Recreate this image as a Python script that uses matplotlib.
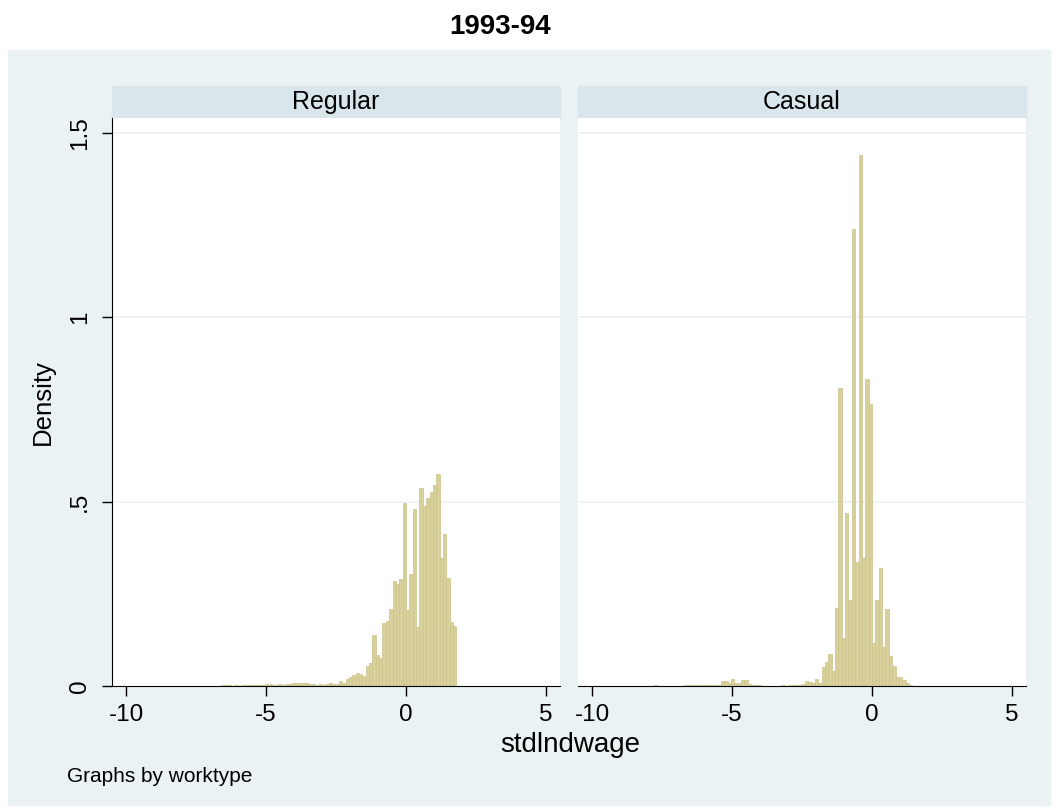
import numpy as np
import matplotlib
matplotlib.use("Agg")
import matplotlib.pyplot as plt
from matplotlib.patches import Rectangle

plt.rcParams["font.family"] = ["Liberation Sans", "DejaVu Sans"]

# histogram bins (common to both panels)
bin_start = -7.8
bin_width = 0.12

# density per bin, Regular workers
regular = [
    0, 0, 0, 0, 0, 0, 0, 0, 0, 0,
    0.003, 0.002, 0.003, 0.001, 0.002, 0.001, 0.002, 0.002, 0.002, 0.002,
    0.002, 0.003, 0.003, 0.005, 0.005, 0.004, 0.003, 0.005, 0.004, 0.006,
    0.006, 0.007, 0.007, 0.008, 0.007, 0.008, 0.006, 0.005, 0.004, 0.005,
    0.004, 0.006, 0.007, 0.006, 0.005, 0.013, 0.009, 0.018, 0.025, 0.030,
    0.036, 0.032, 0.028, 0.055, 0.062, 0.138, 0.085, 0.076, 0.171, 0.177,
    0.209, 0.286, 0.276, 0.289, 0.495, 0.205, 0.303, 0.479, 0.160, 0.536,
    0.488, 0.509, 0.525, 0.546, 0.574, 0.347, 0.413, 0.292, 0.173, 0.162,
]

# density per bin, Casual workers
casual = [
    0.003, 0, 0, 0, 0, 0, 0, 0, 0, 0.003,
    0.002, 0.002, 0.002, 0.002, 0.003, 0.004, 0.004, 0.002, 0.002, 0.003,
    0.013, 0.013, 0.008, 0.018, 0.008, 0.008, 0.016, 0.015, 0.005, 0.004,
    0.004, 0.002, 0.001, 0.001, 0.001, 0.001, 0.001, 0.001, 0.002, 0.001,
    0.002, 0.002, 0.004, 0.004, 0.005, 0.014, 0.010, 0.008, 0.020, 0.008,
    0.052, 0.065, 0.086, 0.041, 0.211, 0.807, 0.129, 0.468, 0.232, 1.239,
    0.337, 1.439, 0.346, 0.833, 0.764, 0.117, 0.234, 0.320, 0.105, 0.210,
    0.082, 0.053, 0.024, 0.024, 0.015, 0.008, 0.002, 0.001, 0, 0,
]

panels = ["Regular", "Casual"]
x_ticks = [-10, -5, 0, 5]
y_ticks = [0, 0.5, 1, 1.5]
y_labels = ["0", ".5", "1", "1.5"]

W, H = 1059, 810
BG = "#eaf2f3"
STRIP = "#d9e6eb"
BAR = "#d8d09b"
BAR_EDGE = "#cdc38a"


def fx(px):
    return px / W


def fy(py):
    return 1 - py / H


fig = plt.figure(figsize=(W / 100, H / 100), dpi=100, facecolor="white")
fig.patches.append(Rectangle((fx(8), fy(805)), fx(1042), (805 - 50) / H,
                             transform=fig.transFigure, color=BG, zorder=-10))

fig.text(fx(500), fy(27), "1993-94", ha="center", va="center",
         fontsize=20, fontweight="bold")

edges = bin_start + bin_width * np.arange(len(regular))
panel_left = [112, 578]
panel_w = 448
top, bottom = 118, 686

for i, (name, vals) in enumerate(zip(panels, [regular, casual])):
    ax = fig.add_axes([fx(panel_left[i]), fy(bottom), fx(panel_w),
                       (bottom - top) / H])
    ax.set_facecolor("white")
    ax.bar(edges, vals, width=bin_width, align="edge", color=BAR,
           edgecolor=BAR_EDGE, linewidth=0.5, zorder=2)
    ax.set_xlim(-10.5, 5.5)
    ax.set_ylim(0, 1.54)
    for g in y_ticks[1:]:
        ax.axhline(g, color=BG, linewidth=1.2, zorder=1)
    for s in ["top", "right"]:
        ax.spines[s].set_visible(False)
    ax.spines["bottom"].set_color("black")
    ax.set_xticks(x_ticks)
    ax.set_xticklabels([str(t) for t in x_ticks], fontsize=17.5)
    ax.tick_params(axis="x", length=7, width=1, pad=6)
    if i == 0:
        ax.spines["left"].set_color("black")
        ax.set_yticks(y_ticks)
        ax.set_yticklabels(y_labels, fontsize=17.5, rotation=90, va="center")
        ax.tick_params(axis="y", length=7, width=1, pad=8)
        ax.set_ylabel("Density", fontsize=18.5, labelpad=10)
    else:
        ax.spines["left"].set_visible(False)
        ax.set_yticks([])

    # strip label
    fig.patches.append(Rectangle((fx(panel_left[i]), fy(top)), fx(panel_w),
                                 32 / H, transform=fig.transFigure,
                                 color=STRIP, zorder=-5))
    fig.text(fx(panel_left[i] + panel_w / 2), fy(102), name, ha="center",
             va="center", fontsize=18)

fig.text(fx(570), fy(745), "stdlndwage", ha="center", va="center", fontsize=20)
fig.text(fx(67), fy(776), "Graphs by worktype", ha="left", va="center",
         fontsize=15)

fig.savefig("out.png", dpi=100)
